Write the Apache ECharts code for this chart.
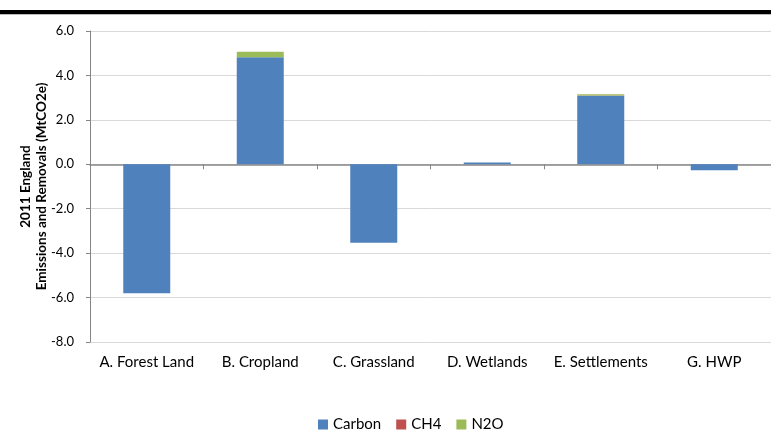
<!DOCTYPE html>
<html>
<head>
<meta charset="utf-8">
<script src="https://cdn.jsdelivr.net/npm/echarts@6/dist/echarts.min.js"></script>
<style>
  html, body { margin: 0; padding: 0; background: #fff; }
  #chart { width: 771px; height: 430px; }
</style>
</head>
<body>
<div id="chart"></div>
<script>
const categories = ['A. Forest Land', 'B. Cropland', 'C. Grassland', 'D. Wetlands', 'E. Settlements', 'G. HWP'];
const carbon = [-5.80, 4.82, -3.53, 0.08, 3.08, -0.27];
const ch4 = [0, 0, 0, 0, 0.02, 0];
const n2o = [0, 0.25, 0, 0, 0.05, 0];
const yTicks = { min: -8, max: 6, interval: 2 };

const font = 'Lato, "Open Sans", sans-serif';
const chart = echarts.init(document.getElementById('chart'));

function barSeries(name, data, color) {
  return {
    name: name,
    type: 'bar',
    stack: 'total',
    data: data,
    barWidth: 47,
    itemStyle: { color: color },
    emphasis: { disabled: true }
  };
}

chart.setOption({
  animation: false,
  textStyle: { fontFamily: font },
  graphic: [
    { type: 'rect', shape: { x: 0, y: 10, width: 771, height: 4 }, style: { fill: '#000' } },
    { type: 'rect', shape: { x: 0, y: 14, width: 771, height: 1 }, style: { fill: '#bbb' } }
  ],
  grid: { left: 90, right: -12, top: 31, bottom: 88 },
  legend: {
    left: 313,
    top: 412,
    icon: 'rect',
    itemWidth: 10,
    itemHeight: 10,
    itemGap: 15,
    textStyle: { fontSize: 15, color: '#000', fontFamily: font },
    data: ['Carbon', 'CH4', 'N2O']
  },
  xAxis: [
    {
      type: 'category',
      data: categories,
      axisLine: { onZero: true, lineStyle: { color: '#868686', width: 1.5 } },
      axisTick: { show: true, length: 5, lineStyle: { color: '#868686' } },
      axisLabel: { show: false }
    },
    {
      type: 'category',
      data: categories,
      position: 'bottom',
      axisLine: { show: false, onZero: false },
      axisTick: { show: false },
      axisLabel: { interval: 0, fontSize: 15, color: '#000', margin: 13, fontFamily: font }
    }
  ],
  yAxis: {
    type: 'value',
    min: yTicks.min,
    max: yTicks.max,
    interval: yTicks.interval,
    name: '2011 England\nEmissions and Removals (MtCO2e)',
    nameLocation: 'middle',
    nameGap: 40,
    nameMoveOverlap: false,
    nameTextStyle: { fontSize: 13.5, fontWeight: 'bold', color: '#000', lineHeight: 16, fontFamily: font },
    axisLine: { show: true, lineStyle: { color: '#868686' } },
    axisTick: { show: true, length: 4, lineStyle: { color: '#868686' } },
    axisLabel: {
      fontSize: 13,
      color: '#000',
      margin: 16,
      fontFamily: font,
      formatter: v => v.toFixed(1)
    },
    splitLine: { show: true, lineStyle: { color: '#d9d9d9' } }
  },
  series: [
    barSeries('Carbon', carbon, '#4f81bd'),
    barSeries('CH4', ch4, '#c0504d'),
    barSeries('N2O', n2o, '#9bbb59')
  ]
});
</script>
</body>
</html>
